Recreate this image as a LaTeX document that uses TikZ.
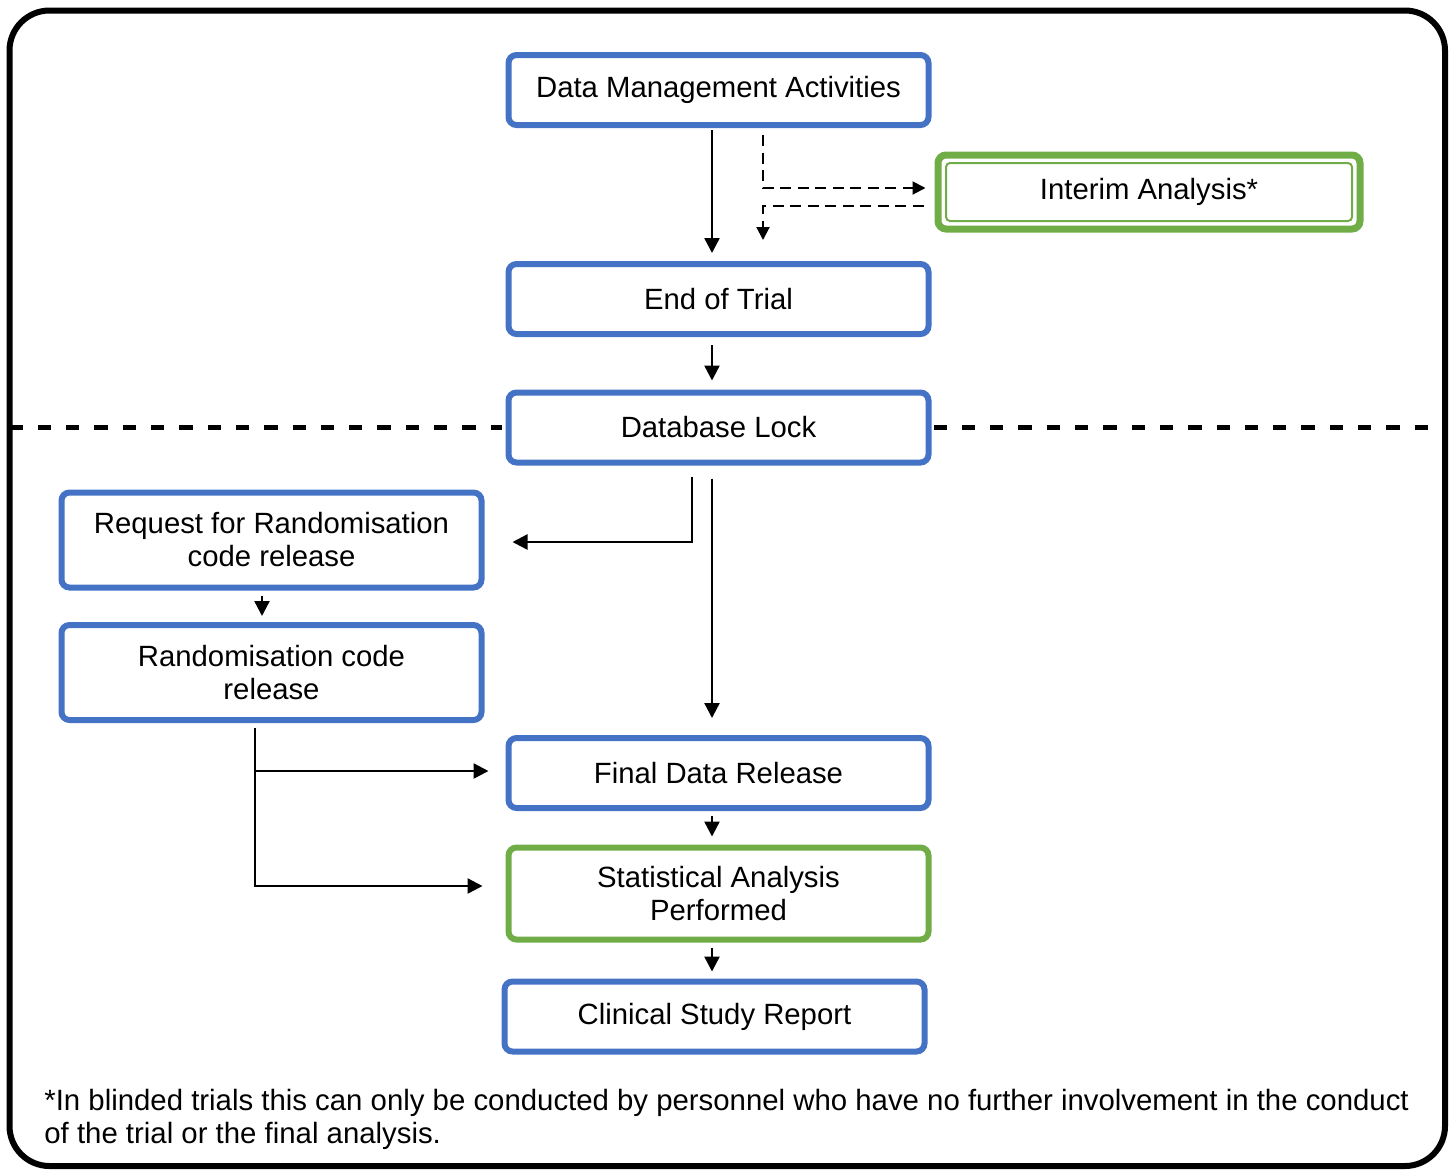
\documentclass[tikz,border=0pt]{standalone}
\usepackage{fontspec}
\setmainfont{Liberation Sans}
\usetikzlibrary{arrows.meta}
\definecolor{boxblue}{HTML}{4472C4}
\definecolor{boxgreen}{HTML}{70AD47}

\begin{document}
\begin{tikzpicture}[
    x=0.5pt, y=-0.5pt,
    box/.style={draw=boxblue, line width=3pt, rounded corners=4pt, fill=white, minimum width=210pt, minimum height=35pt, align=center, inner sep=2pt, font=\fontsize{14.65}{16.5}\selectfont},
    gbox/.style={box, draw=boxgreen},
    arr/.style={-{Triangle[length=7.5pt,width=7.5pt]}, line width=1.2pt},
    darr/.style={arr, line width=1pt, dash pattern=on 5.5pt off 3.25pt, -{Triangle[length=6.5pt,width=6.5pt]}},
    sep/.style={line width=2.25pt, dash pattern=on 6.65pt off 7.5pt}
  ]
    \useasboundingbox (0,0) rectangle (1456,1169);
    \draw[line width=3pt, rounded corners=20pt] (9.5,10.5) rectangle (1445,1166);
    \coordinate (lft) at (9.5,427.5);
    \coordinate (rgt) at (1445,427.5);

    \node[box] (dma) at (718.5,90) {Data Management Activities};
    \node[gbox, line width=3.5pt, minimum width=211pt, minimum height=37pt] (ia) at (1149,192) {Interim Analysis*};
    \draw[boxgreen, line width=1pt, rounded corners=2pt] ([shift={(5.75pt,5.75pt)}]ia.south west) rectangle ([shift={(-5.75pt,-5.75pt)}]ia.north east);
    \node[box] (eot) at (718.5,299) {End of Trial};
    \node[box] (dbl) at (718.5,427.5) {Database Lock};
    \node[box, minimum height=47.5pt] (req) at (271.5,540) {Request for Randomisation\\code release};
    \node[box, minimum height=47.5pt] (rcr) at (271.5,672.5) {Randomisation code\\release};
    \node[box] (fdr) at (718.5,773) {Final Data Release};
    \node[gbox, minimum height=46pt] (sap) at (718.5,893.5) {Statistical Analysis\\Performed};
    \node[box] (csr) at (714.5,1016.5) {Clinical Study Report};
    \node[anchor=north west, inner sep=0pt, align=left, font=\fontsize{14.68}{16.5}\selectfont] (note) at (44,1089) {*In blinded trials this can only be conducted by personnel who have no further involvement in the conduct\\of the trial or the final analysis.};

    % blinded / unblinded split
    \draw[sep, shorten >=2pt] (lft) -- (dbl.west);
    \draw[sep, shorten <=1pt] (dbl.east) -- (rgt);

    \draw[arr, shorten <=1pt, shorten >=4pt] ([xshift=-3.25pt]dma.south) -- ([xshift=-3.25pt]eot.north);
    \draw[darr, shorten <=3.5pt, shorten >=4.5pt] ([xshift=22.25pt]dma.south) |- ([yshift=2pt]ia.west);
    \draw[darr, shorten <=5.5pt, shorten >=10.5pt] ([yshift=-7pt]ia.west) -| ([xshift=22.25pt]eot.north);
    \draw[arr, shorten <=4pt, shorten >=4.5pt] ([xshift=-3.25pt]eot.south) -- ([xshift=-3.25pt]dbl.north);
    \draw[arr, shorten <=5.5pt, shorten >=14pt] ([xshift=-13.25pt]dbl.south) |- ([yshift=-1pt]req.east);
    \draw[arr, shorten <=6.5pt, shorten >=8.5pt] ([xshift=-3.25pt]dbl.south) -- ([xshift=-3.25pt]fdr.north);
    \draw[arr, shorten <=2.5pt, shorten >=3pt] ([xshift=-4.75pt]req.south) -- ([xshift=-4.75pt]rcr.north);
    \draw[arr, shorten <=2.5pt, shorten >=8.5pt] ([xshift=-8.25pt]rcr.south) |- ([yshift=1pt]fdr.west);
    \draw[arr, shorten <=2.5pt, shorten >=11.5pt] ([xshift=-8.25pt]rcr.south) |- ([yshift=3.75pt]sap.west);
    \draw[arr, shorten <=2.5pt, shorten >=4pt] ([xshift=-3.25pt]fdr.south) -- ([xshift=-3.25pt]sap.north);
    \draw[arr, shorten <=2.5pt, shorten >=3.5pt] ([xshift=-3.25pt]sap.south) -- ([xshift=-3.25pt]sap.south |- csr.north);
\end{tikzpicture}
\end{document}
